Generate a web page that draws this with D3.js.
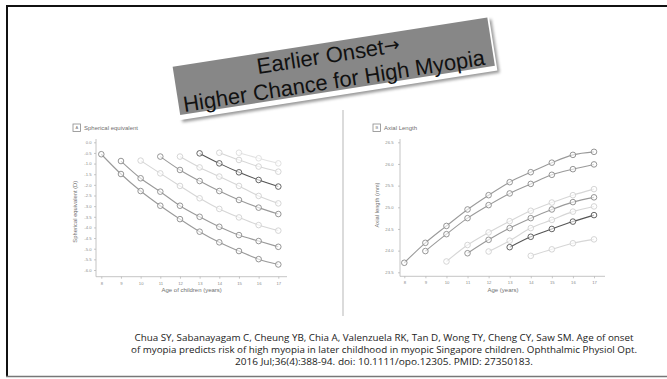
<!DOCTYPE html>
<html><head><meta charset="utf-8">
<script src="https://cdn.jsdelivr.net/npm/d3@7"></script>
<style>html,body{margin:0;padding:0;background:#fff;overflow:hidden}svg{display:block}</style>
</head><body>
<svg id="c" width="667" height="379"></svg>
<script>
// ---- data ----
const ages = [8, 9, 10, 11, 12, 13, 14, 15, 16, 17];
const xTickLabels = ["8", "9", "10", "11", "12", "13", "14", "15", "16", "17"];

// Spherical equivalent (D) by age of onset
const seOnsets = [8, 9, 10, 11, 12, 13, 14, 15];
const seOnset8  = [-0.56, -1.49, -2.29, -2.98, -3.61, -4.20, -4.70, -5.11, -5.49, -5.74];
const seOnset9  = [-0.88, -1.69, -2.32, -2.98, -3.50, -3.97, -4.36, -4.64, -4.91];
const seOnset10 = [-0.86, -1.46, -2.05, -2.63, -3.13, -3.53, -3.89, -4.15];
const seOnset11 = [-0.67, -1.30, -1.82, -2.29, -2.71, -3.07, -3.37];
const seOnset12 = [-0.67, -1.18, -1.61, -2.05, -2.52, -2.87];
const seOnset13 = [-0.52, -0.99, -1.41, -1.77, -2.08];
const seOnset14 = [-0.49, -0.83, -1.14, -1.38];
const seOnset15 = [-0.49, -0.75, -0.99];
const seTicks = [0, -0.5, -1, -1.5, -2, -2.5, -3, -3.5, -4, -4.5, -5, -5.5, -6];
const seTickLabels = ["0.0","-0.5","-1.0","-1.5","-2.0","-2.5","-3.0","-3.5","-4.0","-4.5","-5.0","-5.5","-6.0"];

// Axial length (mm) by age of onset
const alOnsets = [8, 9, 10, 11, 12, 13, 14];
const alOnset8  = [23.72, 24.18, 24.57, 24.95, 25.28, 25.58, 25.81, 26.03, 26.21, 26.28];
const alOnset9  = [23.99, 24.38, 24.75, 25.05, 25.32, 25.54, 25.75, 25.88, 25.99];
const alOnset10 = [23.75, 24.13, 24.42, 24.68, 24.92, 25.11, 25.28, 25.42];
const alOnset11 = [23.94, 24.25, 24.52, 24.75, 24.95, 25.12, 25.23];
const alOnset12 = [23.98, 24.23, 24.52, 24.71, 24.90, 25.02];
const alOnset13 = [24.08, 24.32, 24.50, 24.67, 24.82];
const alOnset14 = [23.88, 24.03, 24.17, 24.26];
const alTicks = [23.5, 24, 24.5, 25, 25.5, 26, 26.5];
const alTickLabels = ["23.5","24.0","24.5","25.0","25.5","26.0","26.5"];

const titleLine1 = "Earlier Onset";
const titleArrow = "\u2192";
const titleLine2 = "Higher Chance for High Myopia";
const citation = [
  "Chua SY, Sabanayagam C, Cheung YB, Chia A, Valenzuela RK, Tan D, Wong TY, Cheng CY, Saw SM. Age of onset",
  "of myopia predicts risk of high myopia in later childhood in myopic Singapore children. Ophthalmic Physiol Opt.",
  "2016 Jul;36(4):388-94. doi: 10.1111/opo.12305. PMID: 27350183."
];

// ---- styles ----
const styleMap = {
  dark:  {stroke: "#555", marker: "#555"},
  mid:   {stroke: "#9a9a9a", marker: "#8a8a8a"},
  light: {stroke: "#d6d6d6", marker: "#d0d0d0"},
  faint: {stroke: "#e2e2e2", marker: "#dcdcdc"}
};
const seStyles = ["mid", "mid", "light", "mid", "light", "dark", "light", "faint"];
const alStyles = ["mid", "mid", "light", "mid", "light", "dark", "light"];

const svg = d3.select("#c");
const FONT = "'Liberation Sans', Arial, sans-serif";

// ---- frame ----
svg.append("line").attr("x1", 6).attr("x2", 667).attr("y1", 6).attr("y2", 6).attr("stroke", "#111").attr("stroke-width", 2);
svg.append("line").attr("x1", 7).attr("x2", 7).attr("y1", 5).attr("y2", 377).attr("stroke", "#111").attr("stroke-width", 2);
svg.append("line").attr("x1", 6).attr("x2", 667).attr("y1", 376.5).attr("y2", 376.5).attr("stroke", "#777").attr("stroke-width", 1.5);

// divider
svg.append("line").attr("x1", 343).attr("x2", 343).attr("y1", 110).attr("y2", 316).attr("stroke", "#cfcfcf").attr("stroke-width", 1.5);

function drawPanel(cfg) {
  const g = svg.append("g");
  const x = d3.scaleLinear().domain([8, 17]).range(cfg.xRange);
  const y = d3.scaleLinear().domain(cfg.yDomain).range(cfg.yRange);

  // axis lines
  g.append("line").attr("x1", cfg.axisX).attr("x2", cfg.axisX).attr("y1", cfg.axisTop).attr("y2", cfg.axisY)
    .attr("stroke", "#b5b5b5").attr("stroke-width", 0.8);
  g.append("line").attr("x1", cfg.axisX).attr("x2", cfg.axisRight).attr("y1", cfg.axisY).attr("y2", cfg.axisY)
    .attr("stroke", "#b5b5b5").attr("stroke-width", 0.8);

  const xa = g.append("g").attr("transform", `translate(0,${cfg.axisY})`)
    .call(d3.axisBottom(x).tickValues(ages).tickFormat((d, i) => xTickLabels[i]).tickSize(2).tickPadding(3));
  const ya = g.append("g").attr("transform", `translate(${cfg.axisX},0)`)
    .call(d3.axisLeft(y).tickValues(cfg.ticks).tickFormat((d, i) => cfg.tickLabels[i]).tickSize(2).tickPadding(cfg.yPad));
  [xa, ya].forEach(a => {
    a.select(".domain").remove();
    a.selectAll("line").attr("stroke", "#b0b0b0").attr("stroke-width", 0.7);
    a.selectAll("text").attr("font-size", 4.2).attr("fill", "#8a8a8a").attr("font-family", FONT);
  });

  // header
  g.append("rect").attr("x", cfg.boxX).attr("y", 124).attr("width", 7.5).attr("height", 7.5)
    .attr("fill", "none").attr("stroke", "#8a8a8a").attr("stroke-width", 0.8);
  g.append("text").attr("x", cfg.boxX + 3.75).attr("y", 129.3).attr("text-anchor", "middle")
    .attr("font-size", 4).attr("fill", "#777").attr("font-family", FONT).text(cfg.letter);
  g.append("text").attr("x", cfg.boxX + 11).attr("y", 130).attr("font-size", 6)
    .attr("fill", "#707070").attr("font-family", FONT).text(cfg.header);

  // axis titles
  g.append("text").attr("x", cfg.xTitleX).attr("y", 292).attr("text-anchor", "middle")
    .attr("font-size", 6).attr("fill", "#707070").attr("font-family", FONT).text(cfg.xTitle);
  g.append("text").attr("transform", `translate(${cfg.yTitleX},${cfg.yTitleY}) rotate(-90)`)
    .attr("text-anchor", "middle").attr("font-size", 5.8).attr("fill", "#707070")
    .attr("font-family", FONT).text(cfg.yTitle);

  // series, light first so darker ones sit on top
  const rank = {faint: 0, light: 1, mid: 2, dark: 3};
  const order = cfg.series.map((s, i) => i).sort((a, b) => rank[cfg.styles[a]] - rank[cfg.styles[b]]);
  const line = d3.line().x(d => x(d[0])).y(d => y(d[1])).curve(d3.curveMonotoneX);
  order.forEach(i => {
    const vals = cfg.series[i];
    const start = ages.indexOf(cfg.onsets[i]);
    const pts = vals.map((v, k) => [ages[start + k], v]);
    const st = styleMap[cfg.styles[i]];
    g.append("path").datum(pts).attr("d", line).attr("fill", "none")
      .attr("stroke", st.stroke).attr("stroke-width", 1.1);
    g.selectAll(null).data(pts).enter().append("circle")
      .attr("cx", d => x(d[0])).attr("cy", d => y(d[1])).attr("r", 2.8)
      .attr("fill", "#fff").attr("fill-opacity", 0.6)
      .attr("stroke", st.marker).attr("stroke-width", 0.9);
  });
}

drawPanel({
  xRange: [101.3, 278.3], yDomain: [0, -6], yRange: [142.3, 270],
  axisX: 96, axisY: 276.7, axisTop: 139, axisRight: 287, yPad: 2.5,
  ticks: seTicks, tickLabels: seTickLabels,
  boxX: 73, letter: "A", header: "Spherical equivalent",
  xTitle: "Age of children (years)", xTitleX: 191.7,
  yTitle: "Spherical equivalent (D)", yTitleX: 77, yTitleY: 211.7,
  onsets: seOnsets,
  series: [seOnset8, seOnset9, seOnset10, seOnset11, seOnset12, seOnset13, seOnset14, seOnset15],
  styles: seStyles
});

drawPanel({
  xRange: [404.3, 594], yDomain: [23.5, 26.5], yRange: [272.3, 142.3],
  axisX: 400, axisY: 276.3, axisTop: 139, axisRight: 605, yPad: 4.5,
  ticks: alTicks, tickLabels: alTickLabels,
  boxX: 373, letter: "B", header: "Axial Length",
  xTitle: "Age (years)", xTitleX: 503,
  yTitle: "Axial length (mm)", yTitleX: 378.5, yTitleY: 205,
  onsets: alOnsets,
  series: [alOnset8, alOnset9, alOnset10, alOnset11, alOnset12, alOnset13, alOnset14],
  styles: alStyles
});

// ---- title banner ----
const defs = svg.append("defs");
defs.append("filter").attr("id", "blur").attr("x", "-10%").attr("y", "-30%").attr("width", "120%").attr("height", "160%")
  .append("feGaussianBlur").attr("stdDeviation", 1.6);
const b = svg.append("g").attr("transform", "translate(333.75,66.25) rotate(-8.9)");
b.append("rect").attr("x", -158).attr("y", -22).attr("width", 321).attr("height", 54)
  .attr("fill", "#9a9a9a").attr("filter", "url(#blur)");
b.append("rect").attr("x", -161).attr("y", -26).attr("width", 322).attr("height", 55.5).attr("fill", "#fff");
b.append("rect").attr("x", -159.25).attr("y", -24.5).attr("width", 318.5).attr("height", 49).attr("fill", "#878787");
const t1 = b.append("text").attr("x", -76).attr("y", -4).attr("font-size", 22)
  .attr("fill", "#111").attr("font-family", FONT);
t1.append("tspan").text(titleLine1);
t1.append("tspan").attr("font-family", "'DejaVu Sans', sans-serif").attr("font-size", 19).attr("dy", -1.5).text(titleArrow);
b.append("text").attr("x", -2).attr("y", 22).attr("text-anchor", "middle").attr("font-size", 22)
  .attr("fill", "#111").attr("font-family", FONT).attr("textLength", 305).attr("lengthAdjust", "spacingAndGlyphs").text(titleLine2);

// ---- citation ----
const citeY = [341, 353, 365];
const citeW = [499, 506, 298];
citation.forEach((t, i) => {
  svg.append("text").attr("x", 384).attr("y", citeY[i]).attr("text-anchor", "middle")
    .attr("font-size", 8.8).attr("fill", "#222").attr("font-family", "'Open Sans', 'Noto Sans', sans-serif")
    .attr("textLength", citeW[i]).attr("lengthAdjust", "spacingAndGlyphs").text(t);
});
</script>
</body></html>
